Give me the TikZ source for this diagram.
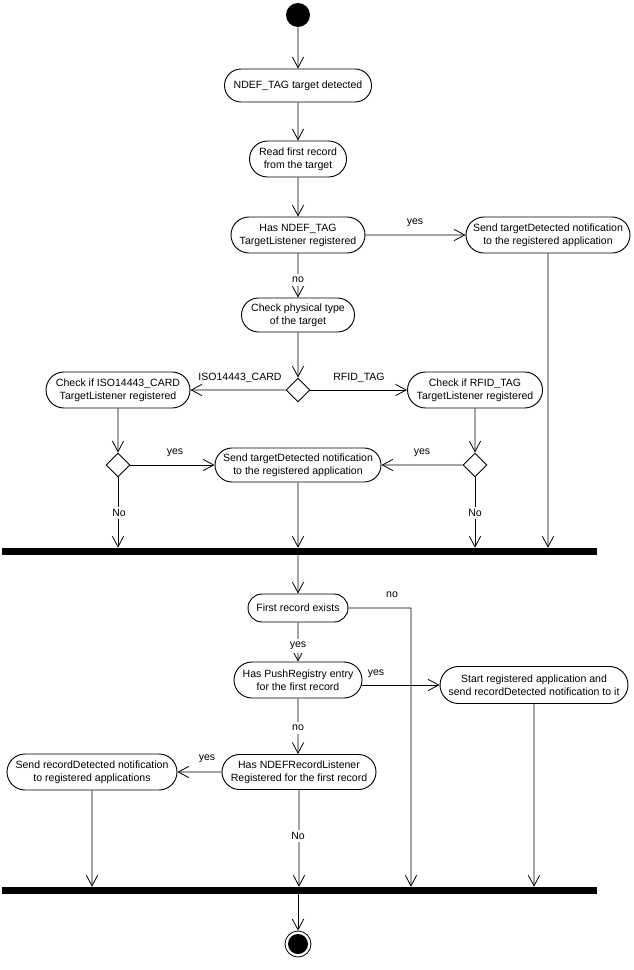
\documentclass[tikz,border=0pt]{standalone}
\usepackage{fontspec}
\setmainfont{Liberation Sans}
\usetikzlibrary{arrows.meta,shapes.misc,shapes.geometric,calc}
\newcommand\lblfont{\fontsize{7.9pt}{9.8pt}\selectfont}
\begin{document}
\begin{tikzpicture}[x=0.75pt,y=-0.75pt,
  act/.style={rounded rectangle, draw, line width=0.7pt, align=center, inner sep=0pt, font=\lblfont},
  sz/.style 2 args={minimum width=#1*0.75pt, minimum height=#2*0.75pt},
  dec/.style={diamond, draw, line width=0.7pt, minimum width=24*0.75pt, minimum height=24*0.75pt, inner sep=0pt},
  barnode/.style={rectangle, fill=black, inner sep=0pt, minimum width=595*0.75pt, minimum height=7*0.75pt},
  startc/.style={circle, fill=black, inner sep=0pt, minimum size=24*0.75pt},
  endc/.style={circle, draw, line width=0.6pt, inner sep=0pt, minimum size=26*0.75pt},
  flow/.style={draw, line width=0.7pt, -{Straight Barb[length=8pt,width=8.5pt,line width=0.6pt]}},
  lbl/.style={font=\lblfont, inner sep=0pt},
  onlbl/.style={lbl, fill=white, inner xsep=1pt, inner ysep=2pt}
]
\useasboundingbox (0,0) rectangle (633,970);

% nodes
\node[startc] (start) at (298,15) {};
\node[act, sz={147}{33}] (n1) at (298,85.5) {NDEF\_TAG target detected};
\node[act, sz={97}{36}] (n2) at (298,159) {Read first record\\from the target};
\node[act, sz={134}{36}] (n3) at (298,235) {Has NDEF\_TAG\\TargetListener registered};
\node[act, sz={164}{36}] (n4) at (548,235) {Send targetDetected notification\\to the registered application};
\node[act, sz={113}{34}] (n5) at (298,315) {Check physical type\\of the target};
\node[dec] (d1) at (298,390) {};
\node[act, sz={144}{36}] (nl) at (118,390) {Check if ISO14443\_CARD\\TargetListener registered};
\node[act, sz={135}{36}] (nr) at (475,390) {Check if RFID\_TAG\\TargetListener registered};
\node[dec] (dl) at (118,465) {};
\node[dec] (dr) at (475,465) {};
\node[act, sz={166}{34}] (nm) at (298,465) {Send targetDetected notification\\to the registered application};
\node[barnode] (bar1) at (299.5,551.5) {};
\node[act, sz={100}{28}] (n6) at (298,608) {First record exists};
\node[act, sz={128}{36}] (n7) at (298,680) {Has PushRegistry entry\\for the first record};
\node[act, sz={188}{37}] (n8) at (534,685) {Start registered application and\\send recordDetected notification to it};
\node[act, sz={154}{35}] (n9) at (299,772) {Has NDEFRecordListener\\Registered for the first record};
\node[act, sz={170}{36}] (n10) at (92,772) {Send recordDetected notification\\to registered applications};
\node[barnode] (bar2) at (299.5,890.5) {};
\node[endc] (end) at (298,944) {};
\fill (end.center) circle (10);

\coordinate (c1) at (411,608);

% connectors
\draw[flow] (start) -- (n1);
\draw[flow] (n1) -- (n2);
\draw[flow] (n2) -- (n3);
\draw[flow] (n3) -- (n4);
\draw[flow] (n3) -- (n5);
\draw[flow] (n5) -- (d1);
\draw[flow] (d1) -- (nl);
\draw[flow] (d1) -- (nr);
\draw[flow] (nl) -- (dl);
\draw[flow] (nr) -- (dr);
\draw[flow] (dl) -- (nm);
\draw[flow] (dr) -- (nm);
\draw[flow] (dl) -- (dl |- bar1.north);
\draw[flow] (nm) -- (nm |- bar1.north);
\draw[flow] (dr) -- (dr |- bar1.north);
\draw[flow] (n4) -- (n4 |- bar1.north);
\draw[flow] (bar1.south -| n6) -- (n6);
\draw[flow] (n6) -- (n7);
\draw[flow] (n6) -- (c1) -- (c1 |- bar2.north);
\draw[flow] (n7.east |- n8) -- (n8);
\draw[flow] (n7) -- (n7 |- n9.north);
\draw[flow] (n9) -- (n10);
\draw[flow] (n9) -- (n9 |- bar2.north);
\draw[flow] (n10) -- (n10 |- bar2.north);
\draw[flow] (n8) -- (n8 |- bar2.north);
\draw[flow] (bar2.south -| end) -- (end);

% labels
\node[lbl] (l1) at (415,223) {yes};
\node[onlbl] (l2) at (298,280) {no};
\node[lbl] (l3) at (240,378) {ISO14443\_CARD};
\node[lbl] (l4) at (359,378) {RFID\_TAG};
\node[lbl] (l5) at (175,453) {yes};
\node[lbl] (l6) at (422,453) {yes};
\node[onlbl] (l7) at (119,513) {No};
\node[onlbl] (l8) at (475,513) {No};
\node[lbl] (l9) at (392,595) {no};
\node[onlbl] (l10) at (298,646) {yes};
\node[lbl] (l11) at (376,674) {yes};
\node[onlbl] (l12) at (298,728) {no};
\node[lbl] (l13) at (207,759) {yes};
\node[onlbl] (l14) at (298,836) {No};
\end{tikzpicture}
\end{document}
